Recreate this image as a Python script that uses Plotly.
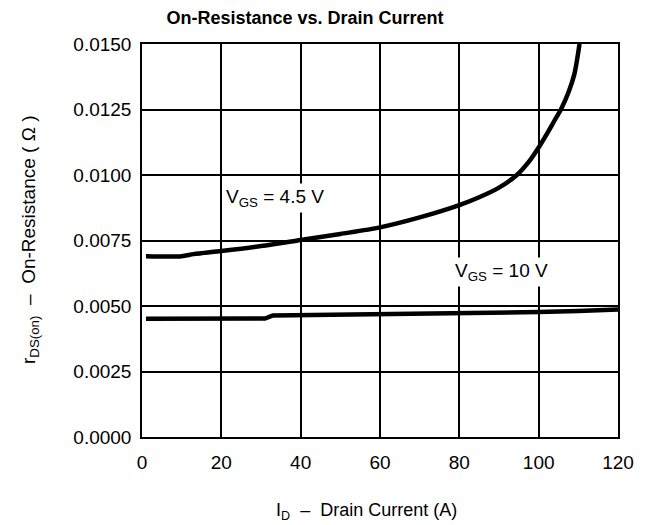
import plotly.graph_objects as go

# Data
id_45 = [1, 10, 13, 20, 30, 40, 50, 60, 70, 80, 85, 90, 94.5, 97.5, 100, 102, 104, 105.6, 107.5, 109, 110.3]
rds_45 = [0.0069, 0.0069, 0.00698, 0.0071, 0.00729, 0.00752, 0.00775, 0.00800, 0.00838, 0.00885,
          0.00915, 0.00952, 0.0100, 0.0105, 0.01105, 0.01155, 0.01208, 0.0125, 0.01315, 0.01385, 0.0150]

id_10 = [1, 10, 20, 31, 33, 40, 60, 80, 90, 100, 110, 120]
rds_10 = [0.00451, 0.00451, 0.00451, 0.00452, 0.00464, 0.00465, 0.00468, 0.00470, 0.00473, 0.00477, 0.00481, 0.00487]

x_ticks = [0, 20, 40, 60, 80, 100, 120]
y_ticks = [0.0, 0.0025, 0.0050, 0.0075, 0.0100, 0.0125, 0.0150]

font_main = "Liberation Sans, Arial, sans-serif"

fig = go.Figure()
fig.add_trace(go.Scatter(x=id_45, y=rds_45, mode="lines",
                         line=dict(color="black", width=4.5, shape="spline", smoothing=0.8),
                         showlegend=False, hoverinfo="skip"))
fig.add_trace(go.Scatter(x=id_10, y=rds_10, mode="lines", line=dict(color="black", width=4.5),
                         showlegend=False, hoverinfo="skip"))

fig.update_layout(
    width=647, height=525,
    margin=dict(l=142, r=29, t=44, b=88),
    paper_bgcolor="white", plot_bgcolor="white",
    font=dict(family=font_main, color="black", size=18),
    title=dict(text="<b>On-Resistance vs. Drain Current</b>",
               x=305/647, xanchor="center", xref="container",
               y=1-18/525, yanchor="middle", yref="container",
               font=dict(family="Liberation Sans Narrow, Arial Narrow, Liberation Sans, sans-serif", size=18, color="black")),
    xaxis=dict(range=[0, 120], tickvals=x_ticks, ticktext=[str(v) for v in x_ticks],
               showgrid=True, gridcolor="black", gridwidth=1.5,
               showline=True, linecolor="black", linewidth=1.5, mirror=True,
               zeroline=False, ticks="", ticklabelstandoff=7, automargin=False,
               tickfont=dict(size=19)),
    yaxis=dict(range=[0, 0.015], tickvals=y_ticks, tickformat=".4f",
               showgrid=True, gridcolor="black", gridwidth=1.5,
               showline=True, linecolor="black", linewidth=1.5, mirror=True,
               zeroline=False, ticks="", ticklabelstandoff=5, automargin=False,
               tickfont=dict(size=19)),
)

# Axis titles
fig.add_annotation(text="I<sub>D</sub>  –  Drain Current (A)", xref="paper", yref="paper",
                   x=(366-142)/476, y=-(511-437)/393, xanchor="center", yanchor="middle",
                   showarrow=False, font=dict(size=18))
fig.add_annotation(text="r<sub>DS(on)</sub>  –  On-Resistance ( Ω )", xref="paper", yref="paper",
                   x=-(142-30)/476, y=(437-240)/393, xanchor="center", yanchor="middle",
                   textangle=-90, showarrow=False, font=dict(size=19))

# Curve labels
fig.add_annotation(text="V<sub>GS</sub> = 4.5 V", x=33.5, y=0.00912, showarrow=False,
                   bgcolor="white", font=dict(size=19), borderpad=2)
fig.add_annotation(text="V<sub>GS</sub> = 10 V", x=90.6, y=0.0063, showarrow=False,
                   bgcolor="white", font=dict(size=19), borderpad=2)

# remove the default page margin so the 647x525 figure fills the window exactly
fig.write_html("out.html", config={"displayModeBar": False},
               post_script="document.body.style.margin='0';document.body.style.overflow='hidden';")
